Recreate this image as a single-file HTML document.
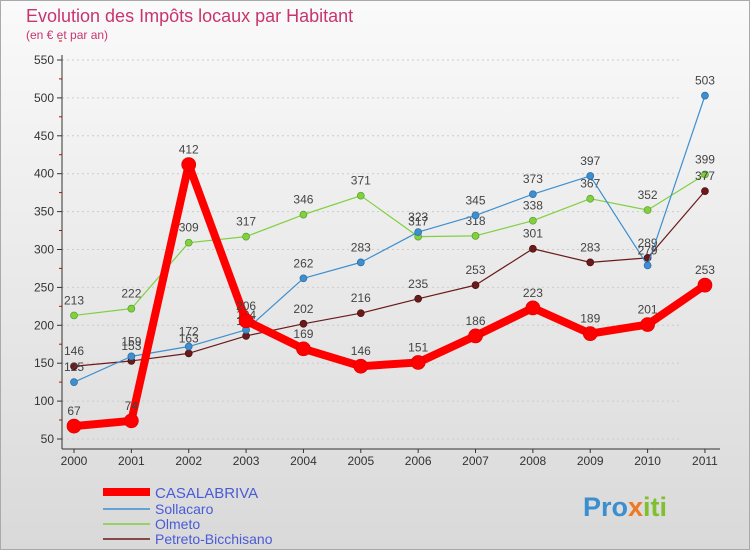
<!DOCTYPE html>
<html><head><meta charset="utf-8"><style>
body{margin:0;width:750px;height:550px;overflow:hidden;font-family:"Liberation Sans",sans-serif}
svg text{font-family:"Liberation Sans",sans-serif}
</style></head><body>
<svg width="750" height="550">
<defs><linearGradient id="bg" x1="0" y1="0" x2="0" y2="1"><stop offset="0" stop-color="#fafafa"/><stop offset="1" stop-color="#d9d9d9"/></linearGradient></defs>
<rect x="0.5" y="0.5" width="749" height="549" fill="url(#bg)" stroke="#aaa"/>
<text x="26" y="22" font-size="18" fill="#c8356e">Evolution des Impôts locaux par Habitant</text>
<text x="26" y="39" font-size="12" fill="#c8356e">(en € et par an)</text>
<g id="axes"></g><g id="series"></g>
<g>
<line x1="103" y1="492" x2="150" y2="492" stroke="#f00" stroke-width="8"/>
<text x="155" y="498" font-size="15" fill="#4a5bd6">CASALABRIVA</text>
<line x1="103" y1="509" x2="150" y2="509" stroke="#3d8fd0" stroke-width="1.5"/>
<text x="155" y="514" font-size="14" fill="#4a5bd6">Sollacaro</text>
<line x1="103" y1="524" x2="150" y2="524" stroke="#80d040" stroke-width="1.5"/>
<text x="155" y="529" font-size="14" fill="#4a5bd6">Olmeto</text>
<line x1="103" y1="539" x2="150" y2="539" stroke="#6a1a1a" stroke-width="1.5"/>
<text x="155" y="544" font-size="14" fill="#4a5bd6">Petreto-Bicchisano</text>
</g>
<text x="583" y="516" font-size="27" font-weight="bold"><tspan fill="#3a8fd0">Pro</tspan><tspan fill="#f07820">x</tspan><tspan fill="#80c030">iti</tspan></text>
</svg>
<script>
const years=["2000","2001","2002","2003","2004","2005","2006","2007","2008","2009","2010","2011"];
const yTicks=[50,100,150,200,250,300,350,400,450,500,550];
const casalabriva=[67,74,412,206,169,146,151,186,223,189,201,253];
const sollacaro=[125,159,172,194,262,283,323,345,373,397,279,503];
const olmeto=[213,222,309,317,346,371,317,318,338,367,352,399];
const petreto=[146,153,163,186,202,216,235,253,301,283,289,377];
const NS="http://www.w3.org/2000/svg";
const X=i=>74+i*57.36, Y=v=>439-(v-50)*0.758;
function mk(t,a,p){const e=document.createElementNS(NS,t);for(const k in a)e.setAttribute(k,a[k]);p.appendChild(e);return e;}
const ax=document.getElementById('axes');
yTicks.forEach(v=>{const y=Y(v);
 const l=mk('line',{x1:62,x2:680,y1:y,y2:y,stroke:'#ccc','stroke-dasharray':'2,3'},ax);
 
 
 const tk=mk('line',{x1:57,x2:62,y1:y,y2:y,stroke:'#333'},ax);
 
 
 const m=mk('line',{x1:59,x2:62,y1:y-19,y2:y-19,stroke:'#d00'},ax);
 
 
 const t=mk('text',{x:54,y:y+4,'text-anchor':'end','font-size':12,fill:'#333'},ax);t.textContent=v;
 
 });
const ya=mk('line',{x1:62,x2:62,y1:55,y2:449,stroke:'#333'},ax);


const xa=mk('line',{x1:62,x2:720,y1:449,y2:449,stroke:'#333'},ax);


years.forEach((yr,i)=>{const t=mk('text',{x:X(i),y:465,'text-anchor':'middle','font-size':12,fill:'#333'},ax);t.textContent=yr;
 
 
 const tk=mk('line',{x1:X(i),x2:X(i),y1:449,y2:453,stroke:'#333'},ax);
 
 });
const sg=document.getElementById('series');
function draw(vals,name,color,w,r,stroke){
 const g=mk('g',{},sg);
 
 
 const p=mk('polyline',{points:vals.map((v,i)=>X(i)+','+Y(v)).join(' '),fill:'none',stroke:color,'stroke-width':w,'stroke-linejoin':'round'},g);
 
 
 vals.forEach((v,i)=>{const c=mk('circle',{cx:X(i),cy:Y(v),r:r,fill:color,stroke:stroke,'stroke-width':0.7},g);
  
  
  const t=mk('text',{x:X(i),y:Y(v)-11,'text-anchor':'middle','font-size':12,fill:'#444'},g);t.textContent=v;
  
  });
}
draw(olmeto,'olmeto','#80d040',1.2,3.5,'#5a9a2a');
draw(petreto,'petreto-bicchisano','#6a1a1a',1.2,3.5,'#4a1010');
draw(sollacaro,'sollacaro','#3d8fd0',1.2,3.5,'#2a6aa0');
draw(casalabriva,'casalabriva','#f00',8,7,'#d00');
</script>
</body></html>
